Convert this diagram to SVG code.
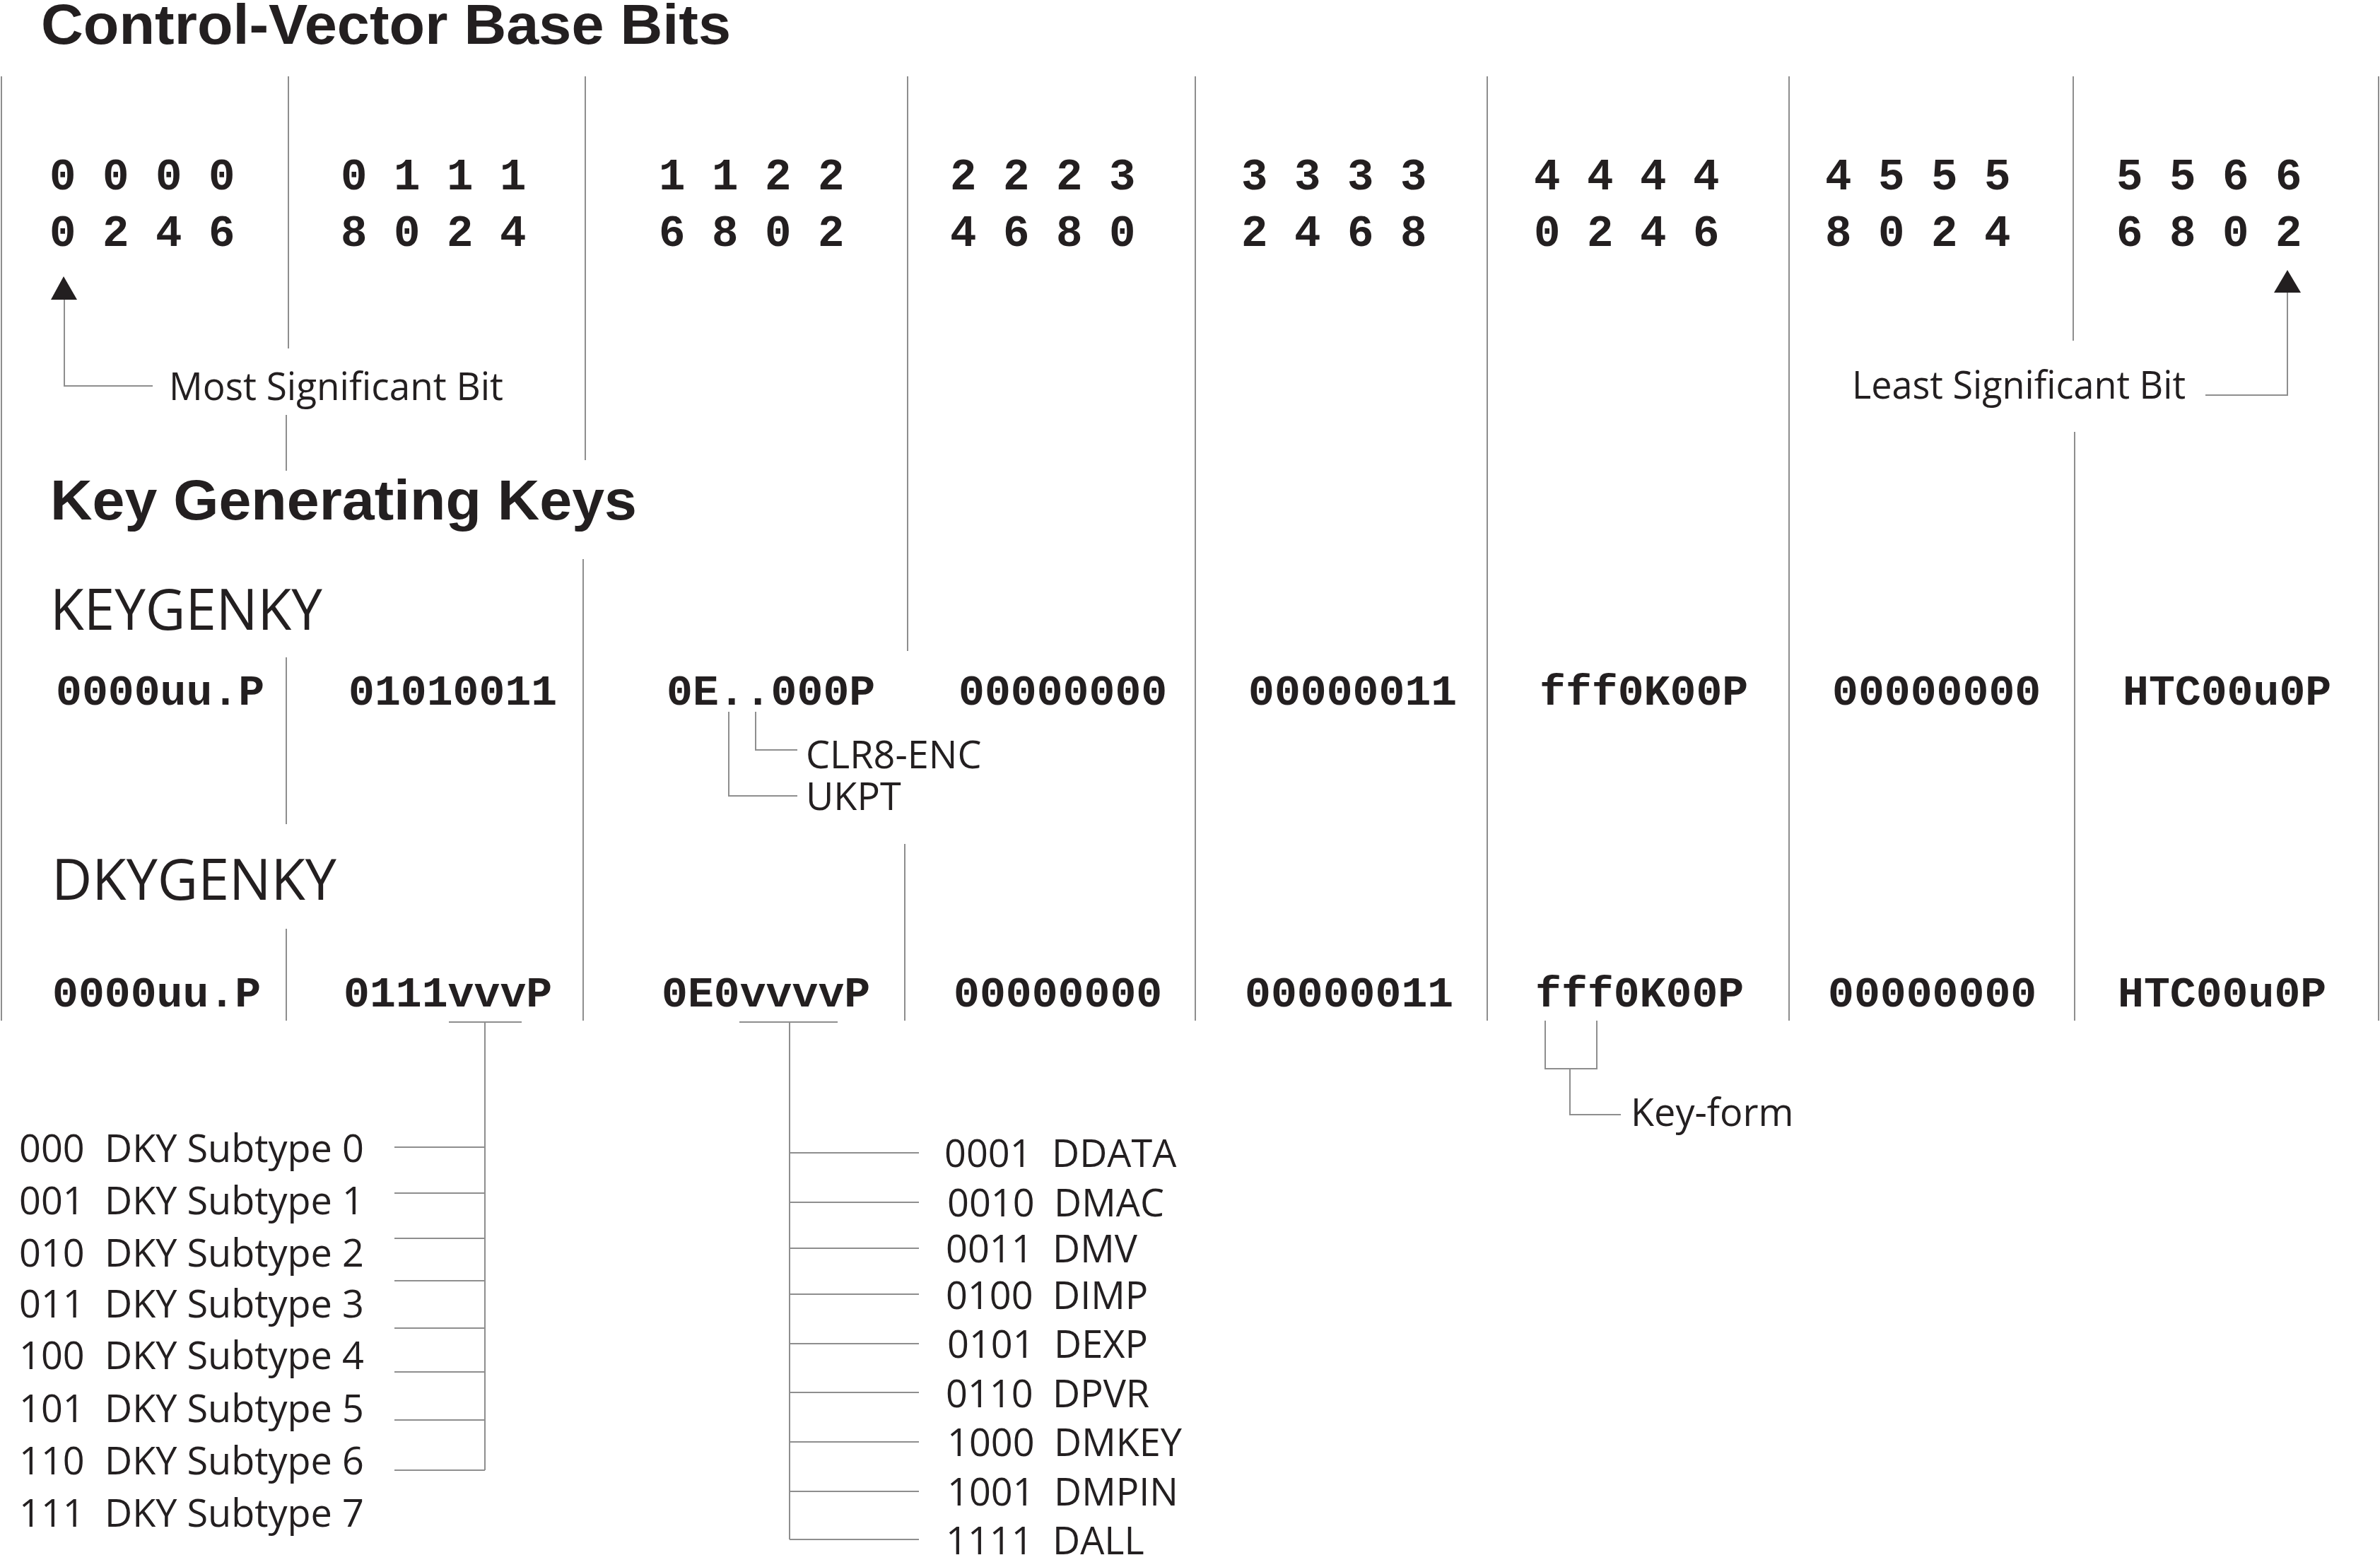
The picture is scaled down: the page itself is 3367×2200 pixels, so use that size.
<svg xmlns="http://www.w3.org/2000/svg" width="3367" height="2200" viewBox="0 0 3367 2200">
<style>
.h{font-family:"Liberation Sans",Arial,sans-serif;font-weight:bold;font-size:80px;fill:#231f20}
.n{font-family:"Open Sans","Noto Sans",sans-serif;font-size:54px;fill:#231f20}
.k{font-family:"Open Sans","Noto Sans",sans-serif;font-size:80px;fill:#231f20}
.b{font-family:"Liberation Mono","Courier New",monospace;font-weight:bold;font-size:62.5px;fill:#231f20}
.m{font-family:"Liberation Mono","Courier New",monospace;font-weight:bold;font-size:61.5px;fill:#231f20}
#connectors path{stroke:#8e8e8e;stroke-width:2;fill:none}
#connectors polygon{fill:#231f20;stroke:none}
</style>
<rect width="3367" height="2200" fill="#ffffff"/>

<g id="connectors">
  <path d="M2 108V1444M408 108V493M405 587V666M405 930V1166M405 1314V1444M828 108V651M825 791V1444M1284 108V921M1280 1194V1444M1691 108V1444M2104 108V1444M2531 108V1444M2933 108V482M2935 611V1444M3365 108V1444"/>
  <path d="M91 424V546H216"/>
  <polygon points="90,391 72,424 109,424"/>
  <path d="M3120 559H3236V414"/>
  <polygon points="3236,382 3217,414 3255,414"/>
  <path d="M1069 1007V1061H1128M1031 1007V1126H1128"/>
  <path d="M2186 1444V1512H2259V1444M2221 1512V1577H2293"/>
  <path d="M635 1446H738M686 1446V2080M558 1623H686M558 1688H686M558 1752H686M558 1812H686M558 1879H686M558 1941H686M558 2009H686M558 2080H686"/>
  <path d="M1046 1446H1185M1117 1446V2178M1117 1631H1300M1117 1701H1300M1117 1766H1300M1117 1831H1300M1117 1901H1300M1117 1970H1300M1117 2040H1300M1117 2110H1300M1117 2178H1300"/>
</g>

<g id="title-cv"><text class="h" x="58" y="62" textLength="976" lengthAdjust="spacingAndGlyphs">Control-Vector Base Bits</text></g>

<g id="bit-numbers">
  <g id="bits-c1"><text class="b" x="70" y="268">0 0 0 0</text><text class="b" x="70" y="348">0 2 4 6</text></g>
  <g id="bits-c2"><text class="b" x="482" y="268">0 1 1 1</text><text class="b" x="482" y="348">8 0 2 4</text></g>
  <g id="bits-c3"><text class="b" x="932" y="268">1 1 2 2</text><text class="b" x="932" y="348">6 8 0 2</text></g>
  <g id="bits-c4"><text class="b" x="1344" y="268">2 2 2 3</text><text class="b" x="1344" y="348">4 6 8 0</text></g>
  <g id="bits-c5"><text class="b" x="1756" y="268">3 3 3 3</text><text class="b" x="1756" y="348">2 4 6 8</text></g>
  <g id="bits-c6"><text class="b" x="2170" y="268">4 4 4 4</text><text class="b" x="2170" y="348">0 2 4 6</text></g>
  <g id="bits-c7"><text class="b" x="2582" y="268">4 5 5 5</text><text class="b" x="2582" y="348">8 0 2 4</text></g>
  <g id="bits-c8"><text class="b" x="2994" y="268">5 5 6 6</text><text class="b" x="2994" y="348">6 8 0 2</text></g>
</g>

<g id="msb-label"><text class="n" x="239" y="566" textLength="473" lengthAdjust="spacingAndGlyphs">Most Significant Bit</text></g>
<g id="lsb-label"><text class="n" x="2620" y="564" textLength="472" lengthAdjust="spacingAndGlyphs">Least Significant Bit</text></g>

<g id="title-kgk"><text class="h" x="71" y="735" textLength="830" lengthAdjust="spacingAndGlyphs">Key Generating Keys</text></g>

<g id="keygenky">
  <text class="k" x="71" y="891" textLength="385" lengthAdjust="spacingAndGlyphs">KEYGENKY</text>
  <text class="m" x="79" y="997">0000uu.P</text>
  <text class="m" x="493" y="997">01010011</text>
  <text class="m" x="943" y="997">0E..000P</text>
  <text class="m" x="1356" y="997">00000000</text>
  <text class="m" x="1766" y="997">00000011</text>
  <text class="m" x="2178" y="997">fff0K00P</text>
  <text class="m" x="2592" y="997">00000000</text>
  <text class="m" x="3003" y="997">HTC00u0P</text>
</g>

<g id="clr8-label"><text class="n" x="1140" y="1087">CLR8-ENC</text></g>
<g id="ukpt-label"><text class="n" x="1140" y="1146">UKPT</text></g>

<g id="dkygenky">
  <text class="k" x="73" y="1273" textLength="403" lengthAdjust="spacingAndGlyphs">DKYGENKY</text>
  <text class="m" x="74" y="1424">0000uu.P</text>
  <text class="m" x="486" y="1424">0111vvvP</text>
  <text class="m" x="936" y="1424">0E0vvvvP</text>
  <text class="m" x="1349" y="1424">00000000</text>
  <text class="m" x="1761" y="1424">00000011</text>
  <text class="m" x="2172" y="1424">fff0K00P</text>
  <text class="m" x="2586" y="1424">00000000</text>
  <text class="m" x="2996" y="1424">HTC00u0P</text>
</g>

<g id="keyform-label"><text class="n" x="2307" y="1593">Key-form</text></g>

<g id="dky-subtypes">
  <text class="n" x="27" y="1644">000<tspan x="148">DKY Subtype 0</tspan></text>
  <text class="n" x="27" y="1718">001<tspan x="148">DKY Subtype 1</tspan></text>
  <text class="n" x="27" y="1792">010<tspan x="148">DKY Subtype 2</tspan></text>
  <text class="n" x="27" y="1864">011<tspan x="148">DKY Subtype 3</tspan></text>
  <text class="n" x="27" y="1937">100<tspan x="148">DKY Subtype 4</tspan></text>
  <text class="n" x="27" y="2012">101<tspan x="148">DKY Subtype 5</tspan></text>
  <text class="n" x="27" y="2086">110<tspan x="148">DKY Subtype 6</tspan></text>
  <text class="n" x="27" y="2160">111<tspan x="148">DKY Subtype 7</tspan></text>
</g>

<g id="d-usages">
  <text class="n" x="1336" y="1651">0001<tspan x="1488">DDATA</tspan></text>
  <text class="n" x="1340" y="1721">0010<tspan x="1491">DMAC</tspan></text>
  <text class="n" x="1338" y="1786">0011<tspan x="1489">DMV</tspan></text>
  <text class="n" x="1338" y="1852">0100<tspan x="1489">DIMP</tspan></text>
  <text class="n" x="1340" y="1921">0101<tspan x="1491">DEXP</tspan></text>
  <text class="n" x="1338" y="1991">0110<tspan x="1489">DPVR</tspan></text>
  <text class="n" x="1340" y="2060">1000<tspan x="1491">DMKEY</tspan></text>
  <text class="n" x="1340" y="2130">1001<tspan x="1491">DMPIN</tspan></text>
  <text class="n" x="1338" y="2199">1111<tspan x="1489">DALL</tspan></text>
</g>
</svg>
